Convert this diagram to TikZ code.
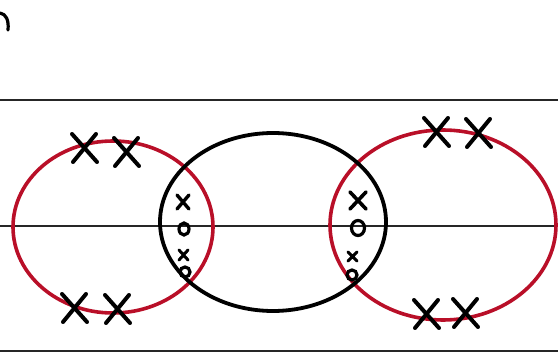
\documentclass[tikz,border=0pt]{standalone}
\begin{document}
\begin{tikzpicture}[x=1pt,y=-1pt,
  rule/.style={draw=black!85,line width=2pt},
  redring/.style={draw={rgb,255:red,185;green,15;blue,40},line width=3.6pt},
  blackring/.style={draw=black,line width=3.8pt},
  bigx/.style={draw=black,line width=4pt,line cap=round},
  smallo/.style={draw=black,line width=3.2pt}]
\useasboundingbox (0,0) rectangle (558,353);
% ruled lines
\draw[rule] (0,100) -- (558,100);
\draw[rule] (0,226) -- (558,226);
\draw[rule] (0,351) -- (558,351);
% partial letter top-left
\draw[draw=black,line width=3.2pt,line cap=round] (0,13) .. controls (6,14) and (9,20) .. (8,30);
% rings
\draw[redring] (113,227) ellipse [x radius=100, y radius=86];
\draw[redring] (443,225) ellipse [x radius=113, y radius=95];
\draw[blackring] (273,222) ellipse [x radius=113, y radius=89];
% big crosses
\foreach \cx/\cy in {85/148,127/152,75/308,118/309,437/132,479/133,427/314,466/313}{
  \draw[bigx] (\cx-13,\cy-14) -- (\cx+12,\cy+14);
  \draw[bigx] (\cx+11,\cy-14) -- (\cx-12,\cy+14);
}
% left lens marks
\draw[bigx,line width=3.4pt] (177,195) -- (189,209) (189,195) -- (177,209);
\draw[smallo] (184,229) ellipse [x radius=5, y radius=6];
\draw[bigx,line width=3pt] (179,250) -- (188,260) (188,250) -- (179,260);
\draw[smallo] (185,272) circle (5);
% right lens marks
\draw[bigx,line width=3.6pt] (350,192) -- (366,209) (366,192) -- (350,209);
\draw[smallo] (358,228) ellipse [x radius=6.5, y radius=7.5];
\draw[bigx,line width=3pt] (348,252) -- (357,261) (357,252) -- (348,261);
\draw[smallo] (352,275) circle (5);
\end{tikzpicture}
\end{document}
